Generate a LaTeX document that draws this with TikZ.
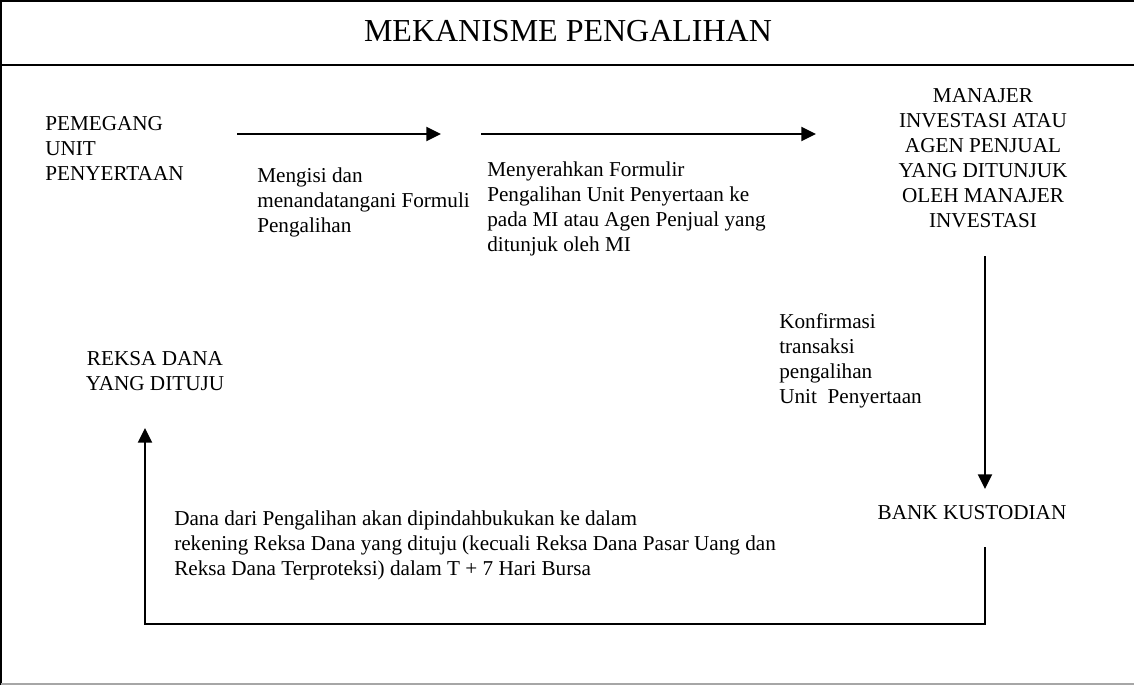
\documentclass[tikz,border=0pt]{standalone}
\usepackage{fontspec}
\setmainfont{Liberation Serif}
\usetikzlibrary{arrows.meta}
\begin{document}
\begin{tikzpicture}[x=0.75pt,y=-0.75pt,
  body/.style={inner sep=0pt,font=\fontsize{15.9}{18.75}\selectfont},
  lbox/.style={body,align=left,anchor=north west},
  cbox/.style={body,align=center,anchor=north},
  conn/.style={line width=1.5pt,-{Triangle[length=11pt,width=10.5pt]}},
  frameline/.style={line width=1.5pt}]
\useasboundingbox (0,0) rectangle (1134,685);
% frame
\draw[frameline] (1,685) -- (1,1) -- (1134,1);
\draw[frameline] (1,65) -- (1134,65);
\draw[black!35,line width=0.8pt] (1,684) -- (1134,684);
% title
\node[inner sep=0pt,anchor=north,font=\fontsize{24}{28}\selectfont] (title) at (568,20) {MEKANISME PENGALIHAN};
% texts
\node[lbox] (pemegang) at (45,116) {PEMEGANG\\UNIT\\PENYERTAAN};
\node[lbox] (lab1) at (257,168) {Mengisi dan\\menandatangani Formuli\\Pengalihan};
\node[lbox] (lab2) at (487,162) {Menyerahkan Formulir\\Pengalihan Unit Penyertaan ke\\pada MI atau Agen Penjual yang\\ditunjuk oleh MI};
\node[cbox] (manajer) at (983,88) {MANAJER\\INVESTASI ATAU\\AGEN PENJUAL\\YANG DITUNJUK\\OLEH MANAJER\\INVESTASI};
\node[lbox] (konf) at (779,313) {Konfirmasi\\transaksi\\pengalihan\\Unit~~Penyertaan};
\node[body] (bank) at (972,513) {BANK KUSTODIAN};
\node[cbox] (reksa) at (155,351) {REKSA DANA\\YANG DITUJU};
\node[lbox] (dana) at (174,511) {Dana dari Pengalihan akan dipindahbukukan ke dalam\\rekening Reksa Dana yang dituju (kecuali Reksa Dana Pasar Uang dan\\Reksa Dana Terproteksi) dalam T + 7 Hari Bursa};
% connector end points
\coordinate (a1s) at (237,134);
\coordinate (a1e) at (441,134);
\coordinate (a2s) at (481,134);
\coordinate (a2e) at (816,134);
\coordinate (v1s) at (985,256);
\coordinate (v1e) at (985,489);
\coordinate (v2s) at (985,547);
\coordinate (v2c) at (985,624);
\coordinate (v2d) at (145,624);
\coordinate (v2e) at (145,428);
% connectors
\draw[conn] (a1s) -- (a1e);
\draw[conn] (a2s) -- (a2e);
\draw[conn] (v1s) -- (v1e);
\draw[conn] (v2s) -- (v2c) -- (v2d) -- (v2e);
\end{tikzpicture}
\end{document}
